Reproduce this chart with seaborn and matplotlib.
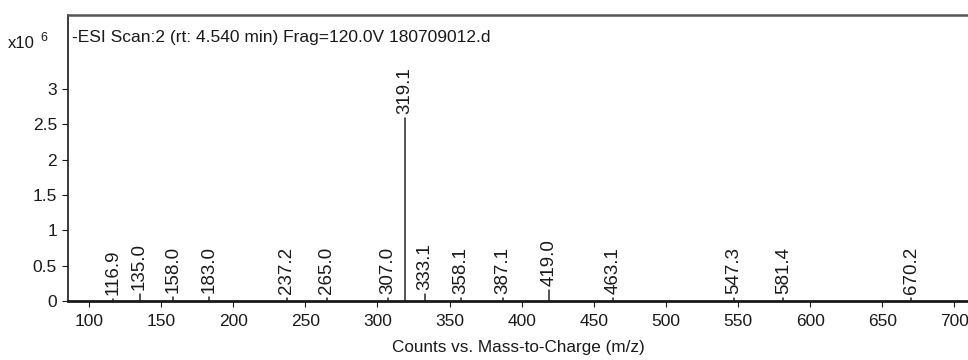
import numpy as np
import pandas as pd
import matplotlib
matplotlib.use("Agg")
import matplotlib.pyplot as plt
import seaborn as sns

# Centroided peaks of the negative-mode ESI scan (intensity in units of 1e6 counts)
peak_mz = [116.9, 135.0, 158.0, 183.0, 237.2, 265.0, 307.0, 319.1,
           333.1, 358.1, 387.1, 419.0, 463.1, 547.3, 581.4, 670.2]
peak_intensity = [0.03, 0.10, 0.05, 0.05, 0.04, 0.04, 0.04, 2.59,
                  0.10, 0.04, 0.04, 0.15, 0.04, 0.04, 0.04, 0.04]
peak_labels = ["116.9", "135.0", "158.0", "183.0", "237.2", "265.0", "307.0", "319.1",
               "333.1", "358.1", "387.1", "419.0", "463.1", "547.3", "581.4", "670.2"]

x_ticks = [100, 150, 200, 250, 300, 350, 400, 450, 500, 550, 600, 650, 700]
y_ticks = [0, 0.5, 1, 1.5, 2, 2.5, 3]
y_tick_labels = ["0", "0.5", "1", "1.5", "2", "2.5", "3"]

scan_title = "-ESI Scan:2 (rt: 4.540 min) Frag=120.0V 180709012.d"
x_label = "Counts vs. Mass-to-Charge (m/z)"

sns.set_theme(style="ticks")
plt.rcParams["font.family"] = ["Liberation Sans", "DejaVu Sans"]

# Stick spectrum: each peak becomes a vertical segment from the baseline
mz = np.asarray(peak_mz)
inten = np.asarray(peak_intensity)
stick = pd.DataFrame({
    "mz": np.repeat(mz, 3),
    "intensity": np.column_stack([np.zeros_like(inten), inten, np.full_like(inten, np.nan)]).ravel(),
    "peak": np.repeat(np.arange(len(mz)), 3),
})

fig = plt.figure(figsize=(9.68, 3.6), dpi=100)
ax = fig.add_axes([68 / 968, 1 - 301 / 360, 1 - 68 / 968, (301 - 15) / 360])

sns.lineplot(data=stick, x="mz", y="intensity", units="peak", estimator=None,
             sort=False, color="#262626", linewidth=1.1, ax=ax)

for x, y, lab in zip(peak_mz, peak_intensity, peak_labels):
    ax.annotate(lab, xy=(x, y), xytext=(0, 3), textcoords="offset points",
                rotation=90, ha="center", va="bottom", fontsize=13.5, color="#1a1a1a")

ax.set_xlim(85.4, 709.5)
ax.set_ylim(0, 4.05)
ax.set_xticks(x_ticks)
ax.set_yticks(y_ticks)
ax.set_yticklabels(y_tick_labels)
ax.tick_params(axis="both", labelsize=12.5, colors="#1a1a1a", length=4, width=0.8, pad=4)
ax.tick_params(axis="x", pad=5)
ax.set_xlabel(x_label, fontsize=12.3, color="#1a1a1a", labelpad=8)
ax.set_ylabel("")

for side in ("left", "bottom"):
    ax.spines[side].set_color("#1a1a1a")
ax.spines["left"].set_linewidth(1.2)
ax.spines["bottom"].set_linewidth(2.0)
ax.spines["top"].set_color("#555555")
ax.spines["top"].set_linewidth(1.8)
ax.spines["right"].set_visible(False)

ax.text(4 / 900, 0.922, scan_title, transform=ax.transAxes, ha="left", va="center",
        fontsize=12.5, color="#1a1a1a")

# Intensity multiplier shown beside the y axis
fig.text(8 / 968, 1 - 44 / 360, "x10", ha="left", va="center", fontsize=12, color="#1a1a1a")
fig.text(40 / 968, 1 - 38 / 360, "6", ha="left", va="center", fontsize=9, color="#1a1a1a")

fig.savefig("out.png", dpi=100)
